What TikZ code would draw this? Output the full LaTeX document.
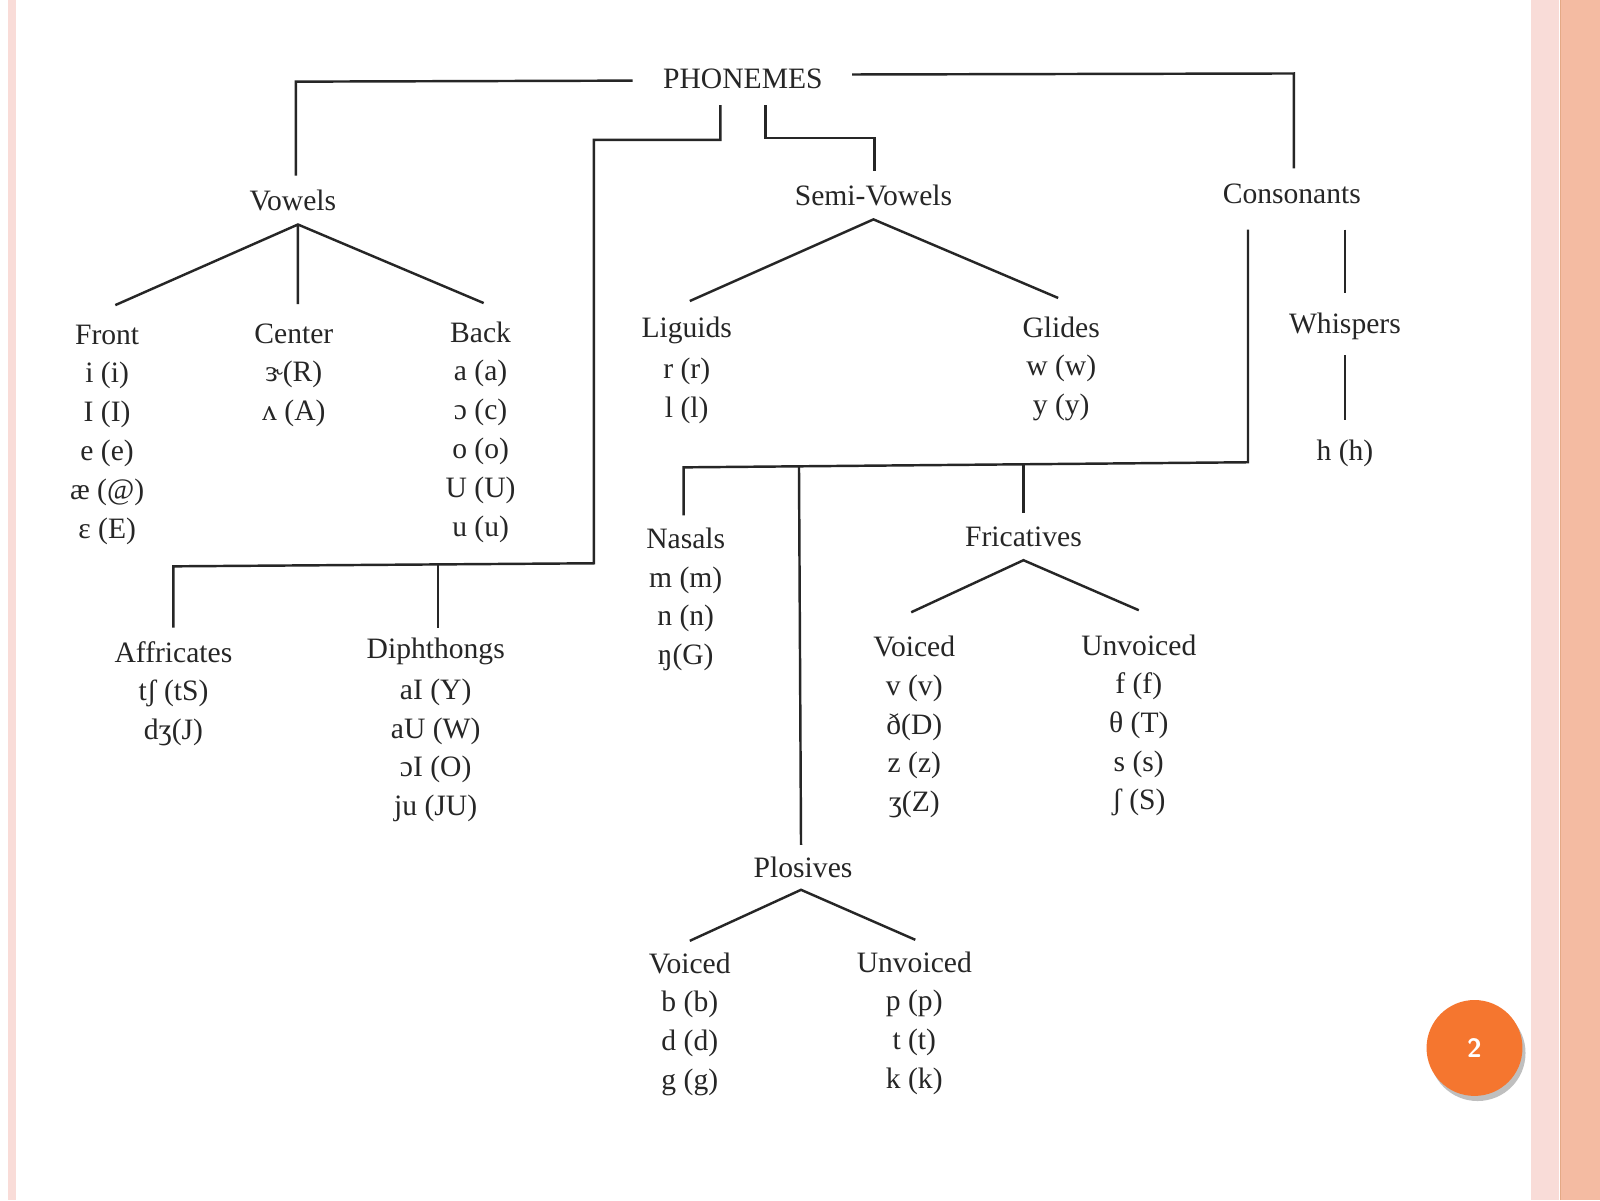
\documentclass[tikz,border=0pt]{standalone}
\usepackage{fontspec}
\setmainfont{Liberation Serif}
\begin{document}
\begin{tikzpicture}[x=1pt,y=-1pt,
  lbl/.style={font=\fontsize{29}{38}\selectfont, text=black!85, inner sep=0pt, align=center},
  lst/.style={lbl, anchor=north},
  br/.style={line width=2.4pt, black!85}]
\definecolor{stripe}{HTML}{F9DCD8}
\definecolor{salmon}{HTML}{F4BBA2}
\definecolor{badge}{HTML}{F5762F}
\useasboundingbox (0,0) rectangle (1568,1176);
\fill[white] (0,0) rectangle (1568,1176);
\fill[stripe] (8,0) rectangle (16,1176);
\fill[stripe] (1500,0) rectangle (1528,1176);
\fill[salmon] (1530,0) rectangle (1568,1176);
\draw[salmon!70!brown, line width=1.2pt] (1529,0) -- (1529,1176);
% badge
\fill[black!25] (1448,1032) circle (47);
\fill[badge] (1445,1027) circle (47);
\node[text=white, font=\sffamily\bfseries\fontsize{26}{30}\selectfont] (page) at (1445,1027) {2};
% headers
\node[lbl] (ph) at (728,77) {PHONEMES};
\node[lbl] (vow) at (287,196) {Vowels};
\node[lbl] (semi) at (856,192) {Semi-Vowels};
\node[lbl] (cons) at (1266,190) {Consonants};
\node[lbl] (front) at (105,328) {Front};
\node[lbl] (center) at (288,327) {Center};
\node[lbl] (back) at (471,326) {Back};
\node[lbl] (liq) at (673,324) {Liguids};
\node[lbl] (glid) at (1040,321) {Glides};
\node[lbl] (whis) at (1318,320) {Whispers};
\node[lbl] (h) at (1318,444) {h (h)};
\node[lbl] (nas) at (672,528) {Nasals};
\node[lbl] (fric) at (1003,526) {Fricatives};
\node[lbl] (fvoi) at (896,634) {Voiced};
\node[lbl] (funv) at (1116,632) {Unvoiced};
\node[lbl] (plos) at (787,850) {Plosives};
\node[lbl] (pvoi) at (676,944) {Voiced};
\node[lbl] (punv) at (896,943) {Unvoiced};
\node[lbl] (affr) at (170,639) {Affricates};
\node[lbl] (diph) at (427,638) {Diphthongs};
% lists
\node[lst] (frontl) at (105,355) {i (i)\\ I (I)\\ e (e)\\ æ (@)\\ ɛ (E)};
\node[lst] (centerl) at (288,354) {ɝ(R)\\ ʌ (A)};
\node[lst] (backl) at (471,353) {a (a)\\ ɔ (c)\\ o (o)\\ U (U)\\ u (u)};
\node[lst] (liql) at (673,351) {r (r)\\ l (l)};
\node[lst] (glidl) at (1040,348) {w (w)\\ y (y)};
\node[lst] (nasl) at (672,555) {m (m)\\ n (n)\\ ŋ(G)};
\node[lst] (fvoil) at (896,661) {v (v)\\ ð(D)\\ z (z)\\ ʒ(Z)};
\node[lst] (funvl) at (1116,659) {f (f)\\ θ (T)\\ s (s)\\ ʃ (S)};
\node[lst] (pvoil) at (676,971) {b (b)\\ d (d)\\ g (g)};
\node[lst] (punvl) at (896,970) {p (p)\\ t (t)\\ k (k)};
\node[lst] (affrl) at (170,666) {tʃ (tS)\\ dʒ(J)};
\node[lst] (diphl) at (427,665) {aI (Y)\\ aU (W)\\ ɔI (O)\\ ju (JU)};
% branches
\draw[br] (620,79) -- (290,80) -- (290,172);
\draw[br] (835,73) -- (1268,72) -- (1268,165);
\draw[br] (706,103) -- (706,137) -- (582,137) -- (582,552) -- (170,555) -- (170,615);
\draw[br] (429,553) -- (429,615);
\draw[br] (750,103) -- (750,135) -- (857,135) -- (857,168);
\draw[br] (113,299) -- (292,220) -- (474,297) (292,220) -- (292,298);
\draw[br] (676,295) -- (856,215) -- (1037,292);
\draw[br] (1318,225) -- (1318,287) (1318,348) -- (1318,412);
\draw[br] (1223,225) -- (1223,453) -- (670,458) -- (670,505);
\draw[br] (783,457) -- (785,828);
\draw[br] (1003,456) -- (1003,503);
\draw[br] (893,600) -- (1003,549) -- (1116,598);
\draw[br] (676,922) -- (785,872) -- (897,921);
\end{tikzpicture}
\end{document}
